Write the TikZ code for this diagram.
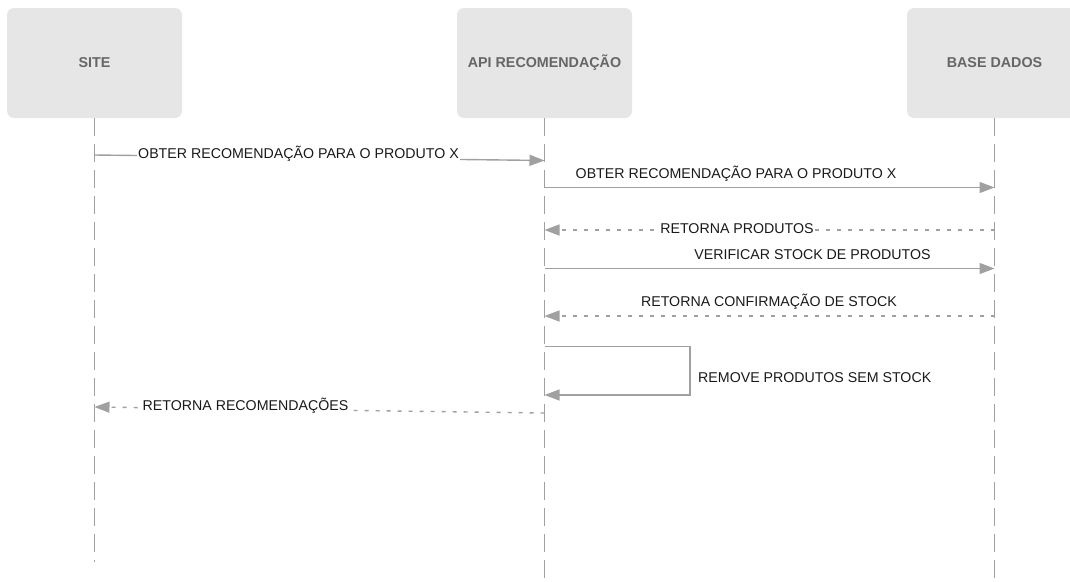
\documentclass[tikz,border=0pt]{standalone}
\usepackage{fontspec}
\setmainfont{Liberation Sans}
\usetikzlibrary{arrows.meta}
\definecolor{boxfill}{HTML}{E6E6E6}
\definecolor{headtext}{HTML}{666666}
\definecolor{wire}{HTML}{A0A0A0}
\begin{document}
\begin{tikzpicture}[x=1pt,y=-1pt,
  actor/.style={fill=boxfill, rounded corners=7pt, minimum width=175pt,
    minimum height=110pt, font=\fontsize{14.3}{16}\selectfont\bfseries, text=headtext},
  lifeline/.style={draw=wire, line width=1.2pt, dash pattern=on 18pt off 8pt},
  call/.style={draw=wire, line width=1.4pt, -{Triangle[length=15pt,width=11pt]}},
  reply/.style={call, dash pattern=on 4pt off 7pt},
  msg/.style={font=\fontsize{14.2}{16}\selectfont, text=black!90, inner sep=1pt},
  onwire/.style={msg, fill=white}]
\useasboundingbox (0,0) rectangle (1070,581);
\clip (0,0) rectangle (1070,581);

% participants
\node[actor] (site) at (94.5,63) {SITE};
\node[actor] (api)  at (544.5,63) {API RECOMENDAÇÃO};
\node[actor] (db)   at (994.5,63) {BASE DADOS};

% lifeline ends
\coordinate (siteEnd) at (94.5,562);
\coordinate (apiEnd)  at (544.5,581);
\coordinate (dbEnd)   at (994.5,581);
\draw[lifeline] (site.south) -- (siteEnd);
\draw[lifeline] (api.south) -- (apiEnd);
\draw[lifeline] (db.south) -- (dbEnd);

% anchor points on the lifelines
\coordinate (s1) at (94.5,155);   \coordinate (a1) at (544.5,160.5);
\coordinate (a2) at (544.5,187.5); \coordinate (d2) at (994.5,187.5);
\coordinate (d3) at (994.5,230);     \coordinate (a3) at (544.5,230);
\coordinate (a4) at (544.5,268.5); \coordinate (d4) at (994.5,268.5);
\coordinate (d5) at (994.5,316);     \coordinate (a5) at (544.5,316);
\coordinate (a6) at (544.5,346.5); \coordinate (b6) at (690,346.5);
\coordinate (c6) at (690,395);     \coordinate (e6) at (544.5,395);
\coordinate (a7) at (544.5,413);   \coordinate (s7) at (94.5,407);

% messages
\draw[call] (s1) -- (a1);
\node[onwire] (m1) at (298.5,154) {OBTER RECOMENDAÇÃO PARA O PRODUTO X};

\draw[call] (a2) -- (d2);
\node[msg] (m2) at (736,174) {OBTER RECOMENDAÇÃO PARA O PRODUTO X};

\draw[reply] (d3) -- (a3);
\node[onwire] (m3) at (737,229) {RETORNA PRODUTOS};

\draw[call] (a4) -- (d4);
\node[msg] (m4) at (812.5,254.5) {VERIFICAR STOCK DE PRODUTOS};

\draw[reply] (d5) -- (a5);
\node[msg] (m5) at (769,302) {RETORNA CONFIRMAÇÃO DE STOCK};

\draw[call] (a6) -- (b6) -- (c6) -- (e6);
\node[msg, anchor=west] (m6) at (697,377.5) {REMOVE PRODUTOS SEM STOCK};

\draw[reply] (a7) -- (s7);
\node[onwire] (m7) at (245.5,405.5) {RETORNA RECOMENDAÇÕES};
\end{tikzpicture}
\end{document}
